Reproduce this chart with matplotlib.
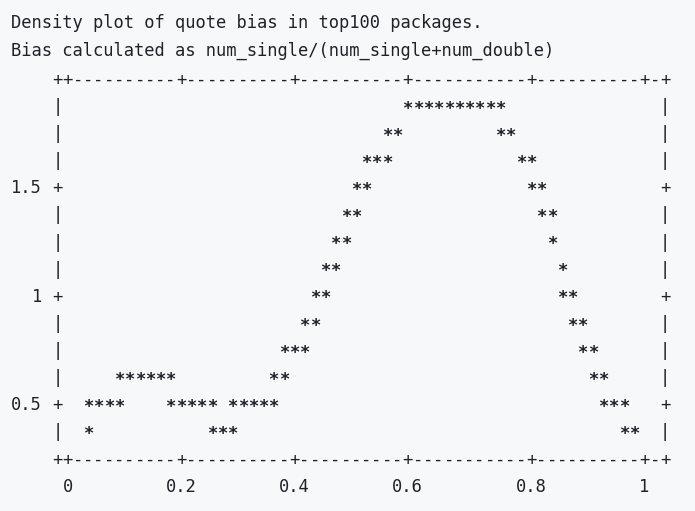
import matplotlib
matplotlib.use("agg")
import matplotlib.pyplot as plt

# gnuplot "set terminal dumb" output, redrawn as monospace text

title_lines = ["Density plot of quote bias in top100 packages.",
               "Bias calculated as num_single/(num_single+num_double)"]

x_ticks = [0, 0.2, 0.4, 0.6, 0.8, 1]
x_tick_labels = ["0", "0.2", "0.4", "0.6", "0.8", "1"]
y_ticks = [0.5, 1, 1.5]
y_tick_labels = ["0.5", "1", "1.5"]

# one entry per '*' in the plot
bias = [0.043, 0.043, 0.061, 0.079, 0.096, 0.096, 0.114, 0.132, 0.150, 0.167,
        0.185, 0.185, 0.203, 0.220, 0.238, 0.256, 0.256, 0.273, 0.291, 0.291,
        0.309, 0.327, 0.344, 0.362, 0.362, 0.380, 0.380, 0.397, 0.415, 0.415,
        0.433, 0.433, 0.450, 0.450, 0.468, 0.468, 0.486, 0.486, 0.504, 0.504,
        0.521, 0.521, 0.539, 0.557, 0.557, 0.574, 0.592, 0.610, 0.627, 0.645,
        0.663, 0.680, 0.698, 0.716, 0.733, 0.751, 0.751, 0.769, 0.787, 0.804,
        0.804, 0.822, 0.822, 0.840, 0.840, 0.857, 0.857, 0.875, 0.875, 0.893,
        0.893, 0.910, 0.910, 0.928, 0.928, 0.946, 0.963, 0.963, 0.981]
density = [0.5, 0.375, 0.5, 0.5, 0.5, 0.625, 0.625, 0.625, 0.625, 0.625,
           0.625, 0.5, 0.5, 0.5, 0.5, 0.5, 0.375, 0.375, 0.375, 0.5,
           0.5, 0.5, 0.5, 0.5, 0.625, 0.625, 0.75, 0.75, 0.75, 0.875,
           0.875, 1.0, 1.0, 1.125, 1.125, 1.25, 1.25, 1.375, 1.375, 1.5,
           1.5, 1.625, 1.625, 1.625, 1.75, 1.75, 1.875, 1.875, 1.875, 1.875,
           1.875, 1.875, 1.875, 1.875, 1.875, 1.875, 1.75, 1.75, 1.625, 1.625,
           1.5, 1.5, 1.375, 1.375, 1.25, 1.125, 1.0, 1.0, 0.875, 0.875,
           0.75, 0.75, 0.625, 0.625, 0.5, 0.5, 0.5, 0.375, 0.375]

# terminal grid: column = A + S*x, row = (Y_TOP - y)/DY
A, S = 0.55, 56.5
Y_TOP, DY = 2.0, 0.125
LEFT_COL, RIGHT_COL = 0, 59
TOP_ROW, BOTTOM_ROW = 0, 14

BG = "#f6f8fa"
FG = "#1f2328"
FONT = "DejaVu Sans Mono"
FSIZE = 12.3


def col_of(x):
    return int(round(A + S * x))


def x_of(col):
    return (col - A) / S


def row_of(y):
    return int(round((Y_TOP - y) / DY))


def y_of(row):
    return Y_TOP - row * DY


def put(ax, col, row, s, ha="center", **kw):
    ax.text(x_of(col), y_of(row), s, ha=ha, va="baseline",
            family=FONT, fontsize=FSIZE, color=FG, **kw)


fig = plt.figure(figsize=(6.95, 5.11), dpi=100, facecolor=BG)
ax = fig.add_axes([0, 0, 1, 1])
ax.set_facecolor(BG)
ax.set_xlim(-0.1082, 1.0861)
ax.set_ylim(0.0362, 2.3906)
ax.axis("off")

# title lines, starting 4 columns left of the frame
for i, line in enumerate(title_lines):
    put(ax, LEFT_COL - 4.5, TOP_ROW - 2.08 + i * 1.02, line, ha="left")

# frame with tick marks
x_tick_cols = [col_of(t) for t in x_ticks]
y_tick_rows = [row_of(t) for t in y_ticks]
for c in range(LEFT_COL, RIGHT_COL + 1):
    ch = "+" if c in (LEFT_COL, RIGHT_COL) or c in x_tick_cols else "-"
    put(ax, c, TOP_ROW, ch)
    put(ax, c, BOTTOM_ROW, ch)
for r in range(TOP_ROW + 1, BOTTOM_ROW):
    ch = "+" if r in y_tick_rows else "|"
    put(ax, LEFT_COL, r, ch)
    put(ax, RIGHT_COL, r, ch)

# tick labels
for t, lab in zip(x_ticks, x_tick_labels):
    put(ax, col_of(t), BOTTOM_ROW + 1, lab)
for t, lab in zip(y_ticks, y_tick_labels):
    put(ax, LEFT_COL - 1.5, row_of(t), lab, ha="right")

# density points
for x, y in zip(bias, density):
    put(ax, col_of(x), row_of(y) + 0.06, "*", fontweight="bold")

fig.savefig("out.png", dpi=100, facecolor=BG)
plt.close(fig)
